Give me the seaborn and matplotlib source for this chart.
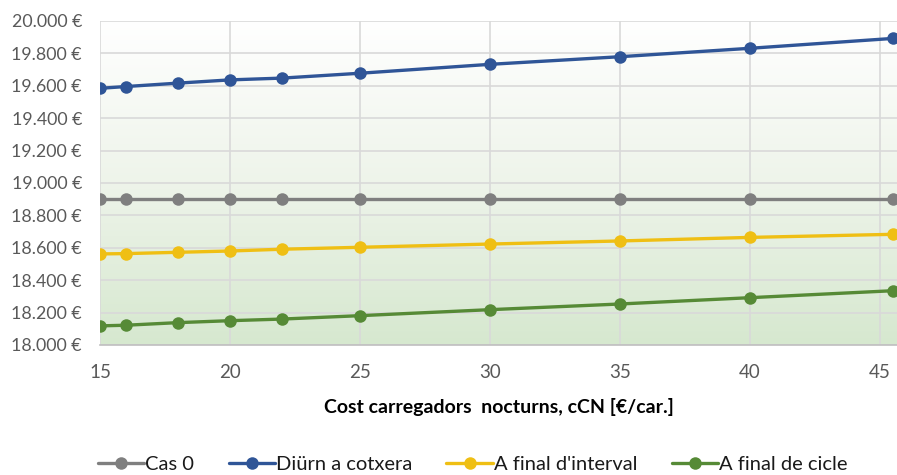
import numpy as np
import pandas as pd
import matplotlib
matplotlib.use("Agg")
import matplotlib.pyplot as plt
from matplotlib.ticker import FuncFormatter, MultipleLocator
from matplotlib.colors import LinearSegmentedColormap
from matplotlib.lines import Line2D
import seaborn as sns

# Night charger cost (€/car) and total cost per scenario (€)
cost_cn = [15, 16, 18, 20, 22, 25, 30, 35, 40, 45.5]
cas_0 = [18900, 18900, 18900, 18900, 18900, 18900, 18900, 18900, 18900, 18900]
diurn_cotxera = [19584, 19595, 19616, 19636, 19647, 19677, 19732, 19779, 19831, 19892]
final_interval = [18562, 18564, 18572, 18580, 18591, 18603, 18623, 18642, 18664, 18683]
final_cicle = [18118, 18122, 18138, 18150, 18160, 18181, 18218, 18253, 18292, 18335]

series_names = ["Cas 0", "Diürn a cotxera", "A final d'interval", "A final de cicle"]
series_values = [cas_0, diurn_cotxera, final_interval, final_cicle]
palette = ["#7f7f7f", "#2f5597", "#efbf14", "#568a36"]

df = pd.concat(
    [pd.DataFrame({"cCN": cost_cn, "cost": vals, "serie": name})
     for name, vals in zip(series_names, series_values)],
    ignore_index=True,
)

sns.set_theme(style="white")
plt.rcParams["font.family"] = ["Lato", "DejaVu Sans"]

fig = plt.figure(figsize=(8.97, 4.75), dpi=100)
ax = fig.add_axes([0.1115, 0.2737, 0.8885, 0.6823])

# green vertical gradient behind the plot area
grad_cmap = LinearSegmentedColormap.from_list("bg", ["#d6e8cf", "#eef4ea", "#ffffff"])
grad = np.linspace(0, 1, 256).reshape(-1, 1)
ax.imshow(grad, cmap=grad_cmap, origin="lower", aspect="auto",
          extent=[15, 45.65, 18000, 20000], zorder=0)

sns.lineplot(data=df, x="cCN", y="cost", hue="serie", hue_order=series_names,
             palette=palette, marker="o", markersize=9, markeredgewidth=0,
             linewidth=2.4, ax=ax, zorder=3, clip_on=True, legend=False)

ax.set_xlim(15, 45.65)
ax.set_ylim(18000, 20000)
ax.xaxis.set_major_locator(MultipleLocator(5))
ax.yaxis.set_major_locator(MultipleLocator(200))
ax.yaxis.set_major_formatter(FuncFormatter(lambda v, p: f"{int(round(v)):,} €".replace(",", ".")))

ax.grid(True, color="#d9d9d9", linewidth=1.2, zorder=1)
ax.set_axisbelow(True)
for side in ["top", "right", "left"]:
    ax.spines[side].set_visible(False)
ax.spines["bottom"].set_color("#bfbfbf")
ax.spines["bottom"].set_linewidth(1.2)

ax.tick_params(axis="both", length=0, labelcolor="#595959")
ax.tick_params(axis="x", pad=14, labelsize=13.5)
ax.tick_params(axis="y", pad=13, labelsize=12.8)

ax.set_ylabel("")
ax.set_xlabel("Cost carregadors  nocturns, cCN [€/car.]", fontsize=14,
              fontweight="bold", color="#000000", labelpad=12)

# legend handles built from the same series styles
handles = [Line2D([], [], color=c, linewidth=2.4, marker="o", markersize=9,
                  markeredgewidth=0) for c in palette]
fig.legend(handles, series_names, loc="center", bbox_to_anchor=(0.527, 0.022),
           ncol=4, frameon=False, fontsize=14.5, handlelength=2.3,
           handletextpad=0.05, columnspacing=1.7, labelcolor="#1a1a1a",
           borderpad=0, borderaxespad=0)

fig.savefig("out.png", dpi=100)
